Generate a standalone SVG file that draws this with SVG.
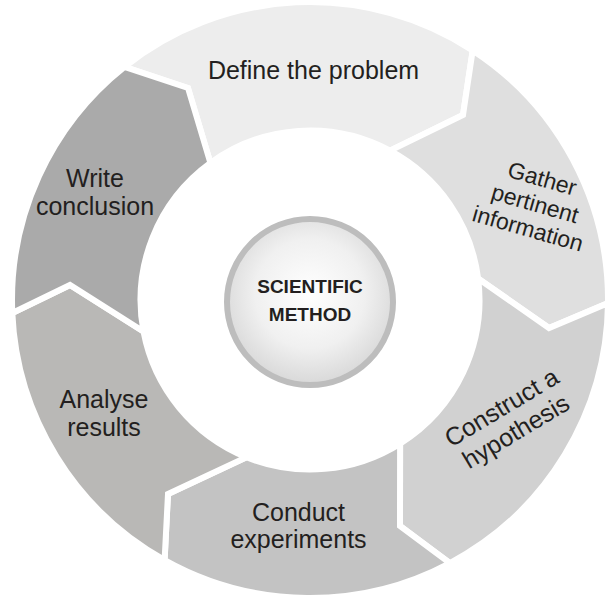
<svg xmlns="http://www.w3.org/2000/svg" width="609" height="596" viewBox="0 0 609 596">
<defs>
<radialGradient id="hub" cx="50%" cy="45%" r="55%">
<stop offset="0" stop-color="#ffffff"/>
<stop offset="0.6" stop-color="#f0f0f0"/>
<stop offset="1" stop-color="#d8d8d8"/>
</radialGradient>
<style>
.seg{stroke:#ffffff;stroke-width:6;stroke-linejoin:miter}
.lbl{font-family:"Liberation Sans",Arial,Helvetica,sans-serif;font-size:25px;fill:#231f20;text-anchor:middle}
.sm{font-size:23px}
.hubt{font-family:"Liberation Sans",Arial,Helvetica,sans-serif;font-size:19px;font-weight:bold;fill:#231f20;text-anchor:middle}
</style>
</defs>
<rect width="609" height="596" fill="#ffffff"/>
<g id="define">
<path class="seg" fill="#ededed" d="M124.5,66.8 A298,298 0 0 1 472.7,50.4 L463,115 L390.1,150.6 A169.5,169.5 0 0 0 210.4,162.9 L188,88 Z"/>
<text class="lbl" x="313.5" y="79">Define the problem</text>
</g>
<g id="gather">
<path class="seg" fill="#dfdfdf" d="M472.7,50.4 A298,298 0 0 1 608,303.1 L549,328 L478.1,278.5 A169.5,169.5 0 0 0 390.1,150.6 L463,115 Z"/>
<g transform="translate(535,204) rotate(16)">
<text class="lbl sm" x="0" y="-18.5">Gather</text>
<text class="lbl sm" x="0" y="7.5">pertinent</text>
<text class="lbl sm" x="0" y="33.5">information</text>
</g>
</g>
<g id="construct">
<path class="seg" fill="#d1d1d1" d="M608,303.1 A298,298 0 0 1 449.9,563.1 L400,526 L400.1,443.6 A169.5,169.5 0 0 0 478.1,278.5 L549,328 Z"/>
<g transform="translate(508.5,419) rotate(-31)">
<text class="lbl" x="0" y="-5">Construct a</text>
<text class="lbl" x="0" y="23">hypothesis</text>
</g>
</g>
<g id="conduct">
<path class="seg" fill="#c3c3c3" d="M449.9,563.1 A298,298 0 0 1 164.6,560.1 L168,494 L246.5,457.2 A169.5,169.5 0 0 0 400.1,443.6 L400,526 Z"/>
<text class="lbl" x="298.5" y="521">Conduct</text>
<text class="lbl" x="298.5" y="548">experiments</text>
</g>
<g id="analyse">
<path class="seg" fill="#b9b8b6" d="M164.6,560.1 A298,298 0 0 1 12.3,313 L70,285 L143.5,331.5 A169.5,169.5 0 0 0 246.5,457.2 L168,494 Z"/>
<text class="lbl" x="104" y="408">Analyse</text>
<text class="lbl" x="104" y="436">results</text>
</g>
<g id="write">
<path class="seg" fill="#aaaaaa" d="M12.3,313 A298,298 0 0 1 124.5,66.8 L188,88 L210.4,162.9 A169.5,169.5 0 0 0 143.5,331.5 L70,285 Z"/>
<text class="lbl" x="95" y="187">Write</text>
<text class="lbl" x="95" y="215">conclusion</text>
</g>
<g id="hub-node">
<circle cx="310" cy="302" r="83" fill="url(#hub)" stroke="#bdbdbd" stroke-width="6"/>
<text class="hubt" x="310" y="293">SCIENTIFIC</text>
<text class="hubt" x="310" y="321">METHOD</text>
</g>
<g id="connectors"></g>
</svg>
